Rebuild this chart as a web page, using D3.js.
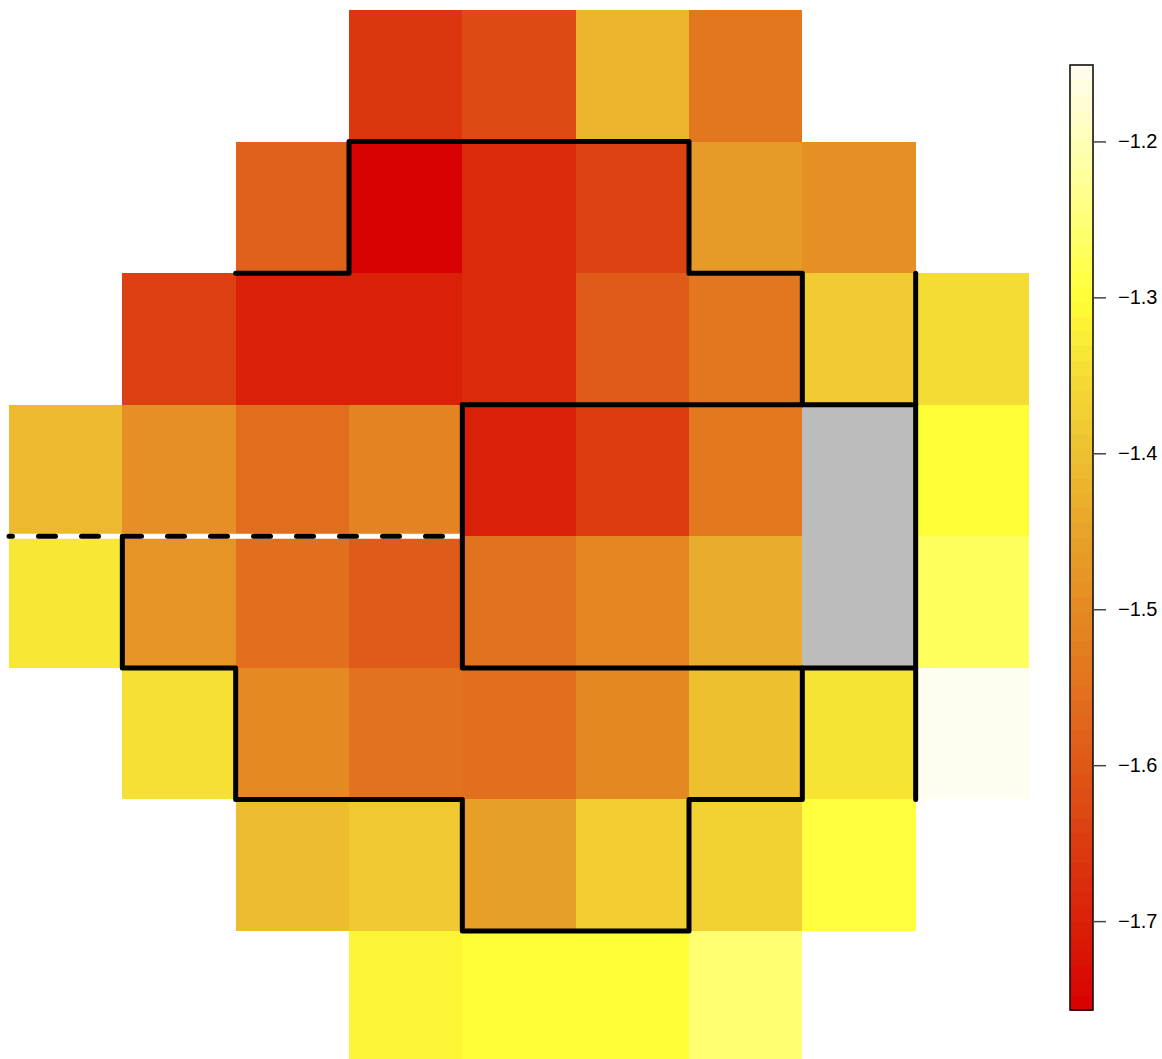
<!DOCTYPE html>
<html>
<head>
<meta charset="utf-8">
<script src="https://cdn.jsdelivr.net/npm/d3@7"></script>
<style>
  html, body { margin: 0; padding: 0; background: #ffffff; }
  svg { display: block; }
</style>
</head>
<body>
<script>
// Grid of estimates, one array per row (top to bottom), 9 columns each.
// null = no location, NaN = location without a value (drawn grey).
const row1 = [null, null, null, -1.66, -1.625, -1.42, -1.54, null, null];
const row2 = [null, null, -1.58, -1.757, -1.68, -1.64, -1.47, -1.49, null];
const row3 = [null, -1.645, -1.70, -1.70, -1.68, -1.595, -1.54, -1.38, -1.35];
const row4 = [-1.41, -1.49, -1.56, -1.515, -1.70, -1.65, -1.535, NaN, -1.30];
const row5 = [-1.335, -1.48, -1.555, -1.595, -1.55, -1.51, -1.435, NaN, -1.27];
const row6 = [null, -1.345, -1.50, -1.55, -1.555, -1.505, -1.40, -1.34, -1.151];
const row7 = [null, null, -1.405, -1.385, -1.46, -1.375, -1.37, -1.295, null];
const row8 = [null, null, null, -1.315, -1.30, -1.30, -1.255, null, null];
const grid = [row1, row2, row3, row4, row5, row6, row7, row8];

// Region boundaries, as vertices in grid units (column edge, row edge).
const upperBoundary = [[2, 2], [3, 2], [3, 1], [6, 1], [6, 2], [7, 2], [7, 3]];
const middleTop = [[4, 3], [8, 3]];
const rightEdge = [[8, 2], [8, 6]];
const middleBox = [[4, 3], [4, 5], [8, 5]];
const lowerBoundary = [[1, 4], [1, 5], [2, 5], [2, 6], [4, 6], [4, 7], [6, 7], [6, 6], [7, 6], [7, 5]];
const meridian = [[0, 4], [4, 4]];

// Colour bar ticks.
const legendTicks = [-1.2, -1.3, -1.4, -1.5, -1.6, -1.7];

// Palette stops: red through orange and yellow to white.
const paletteStops = [-1.757, -1.70, -1.65, -1.60, -1.55, -1.50, -1.45, -1.40, -1.35, -1.30, -1.25, -1.20, -1.151];
const paletteColors = ["#d80000", "#da2008", "#dc3c10", "#de5818", "#e2721e", "#e48a22",
                       "#e8a42a", "#eec030", "#f5dc34", "#ffff36", "#ffff78", "#ffffb8", "#fffcf0"];

const W = 1162, H = 1059;
const nCols = 9, nRows = 8;

const svg = d3.select("body").append("svg")
  .attr("width", W).attr("height", H);

const x = d3.scaleLinear().domain([0, nCols]).range([9, 1029]);
const y = d3.scaleLinear().domain([0, nRows]).range([10, 1062.6]);

const allVals = grid.flat().filter(v => v !== null && !isNaN(v));
const extent = d3.extent(allVals);

const color = d3.scaleLinear()
  .domain(paletteStops)
  .range(paletteColors)
  .interpolate(d3.interpolateRgb)
  .clamp(true);

// Cells
const cells = [];
grid.forEach((row, r) => row.forEach((v, c) => {
  if (v !== null) cells.push({ r, c, v });
}));

svg.append("g")
  .attr("shape-rendering", "crispEdges")
  .selectAll("rect")
  .data(cells)
  .join("rect")
  .attr("x", d => x(d.c))
  .attr("y", d => y(d.r))
  .attr("width", d => x(d.c + 1) - x(d.c))
  .attr("height", d => y(d.r + 1) - y(d.r))
  .attr("fill", d => isNaN(d.v) ? "#bcbcbc" : color(d.v));

// Boundaries
const line = d3.line().x(d => x(d[0])).y(d => y(d[1]));
const outlines = svg.append("g");

outlines.append("path")
  .attr("d", line(meridian))
  .attr("fill", "none")
  .attr("stroke", "#ffffff")
  .attr("stroke-width", 5);

outlines.append("path")
  .attr("d", line(meridian))
  .attr("fill", "none")
  .attr("stroke", "#000000")
  .attr("stroke-width", 5)
  .attr("stroke-linecap", "round")
  .attr("stroke-dasharray", "17 26")
  .attr("stroke-dashoffset", 13.5);

[upperBoundary, middleTop, rightEdge, middleBox, lowerBoundary].forEach(pts => {
  outlines.append("path")
    .attr("d", line(pts))
    .attr("fill", "none")
    .attr("stroke", "#000000")
    .attr("stroke-width", 5)
    .attr("stroke-linecap", "round")
    .attr("stroke-linejoin", "round");
});

// Colour bar
const barX = 1070, barW = 23, barTop = 65, barBottom = 1010;
const legendScale = d3.scaleLinear().domain(extent).range([barBottom, barTop]);
const nBands = 64;
const bandEdges = d3.range(nBands + 1).map(i => extent[0] + (extent[1] - extent[0]) * i / nBands);

const legend = svg.append("g");
legend.append("g")
  .attr("shape-rendering", "crispEdges")
  .selectAll("rect")
  .data(d3.range(nBands))
  .join("rect")
  .attr("x", barX)
  .attr("width", barW)
  .attr("y", i => legendScale(bandEdges[i + 1]))
  .attr("height", i => legendScale(bandEdges[i]) - legendScale(bandEdges[i + 1]) + 0.5)
  .attr("fill", i => color((bandEdges[i] + bandEdges[i + 1]) / 2));

legend.append("rect")
  .attr("x", barX).attr("y", barTop)
  .attr("width", barW).attr("height", barBottom - barTop)
  .attr("fill", "none")
  .attr("stroke", "#111111")
  .attr("stroke-width", 1.6);

const axis = d3.axisRight(legendScale)
  .tickValues(legendTicks)
  .tickSize(13)
  .tickPadding(12)
  .tickFormat(d3.format(".1f"));

const axisG = legend.append("g")
  .attr("transform", `translate(${barX + barW},0)`)
  .call(axis);
axisG.select(".domain").remove();
axisG.selectAll(".tick line").attr("stroke", "#444444").attr("stroke-width", 1.5);
axisG.selectAll(".tick text")
  .attr("fill", "#000000")
  .style("font-family", "'Liberation Sans', Arial, Helvetica, sans-serif")
  .style("font-size", "20px");
</script>
</body>
</html>
